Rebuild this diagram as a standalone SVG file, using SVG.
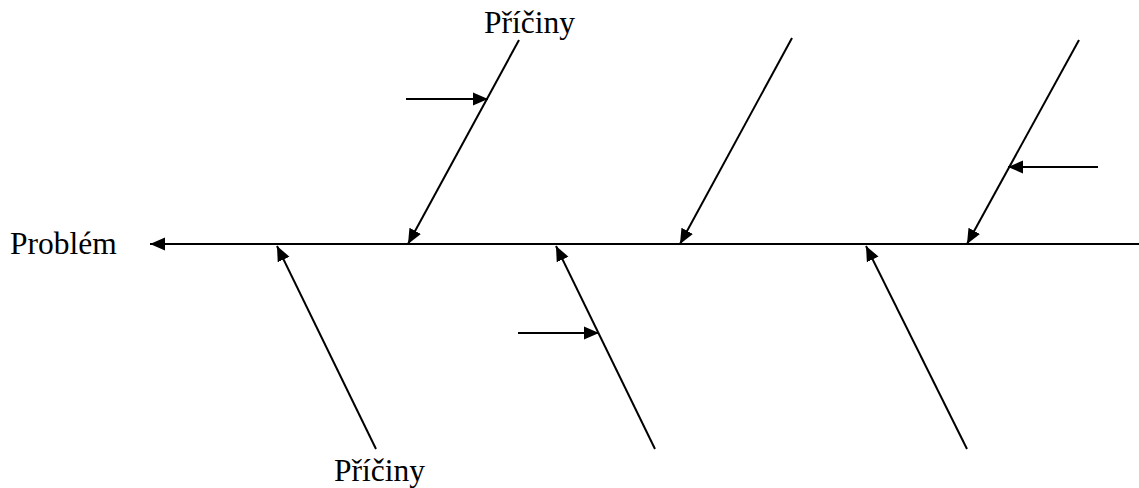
<svg xmlns="http://www.w3.org/2000/svg" width="1139" height="488" viewBox="0 0 1139 488">
<style>
.t{font-family:"Liberation Serif","Times New Roman",serif;font-size:31.5px;fill:#000}
.l{stroke:#000;stroke-width:2;fill:none;marker-end:url(#ah)}
</style>
<defs>
<marker id="ah" markerUnits="userSpaceOnUse" markerWidth="16" markerHeight="14" refX="15" refY="7" orient="auto">
<path d="M0,0.5 L15,7 L0,13.5 Z" fill="#000"/>
</marker>
</defs>
<rect width="1139" height="488" fill="#fff"/>
<g id="connectors">
<line class="l" x1="1139" y1="244" x2="150" y2="244"/>
<line class="l" x1="519" y1="40" x2="408" y2="244"/>
<line class="l" x1="792" y1="38" x2="680" y2="244"/>
<line class="l" x1="1079" y1="40" x2="967" y2="244"/>
<line class="l" x1="406" y1="99" x2="488" y2="99"/>
<line class="l" x1="1098" y1="167" x2="1008" y2="167"/>
<line class="l" x1="376" y1="449" x2="277" y2="246"/>
<line class="l" x1="655" y1="449" x2="556" y2="246"/>
<line class="l" x1="967" y1="449" x2="866" y2="246"/>
<line class="l" x1="518" y1="333" x2="599" y2="333"/>
</g>
<g id="problem"><text class="t" x="10" y="254">Problém</text></g>
<g id="causes-top"><text class="t" x="484" y="33">Příčiny</text></g>
<g id="causes-bottom"><text class="t" x="334" y="481">Příčiny</text></g>
</svg>
